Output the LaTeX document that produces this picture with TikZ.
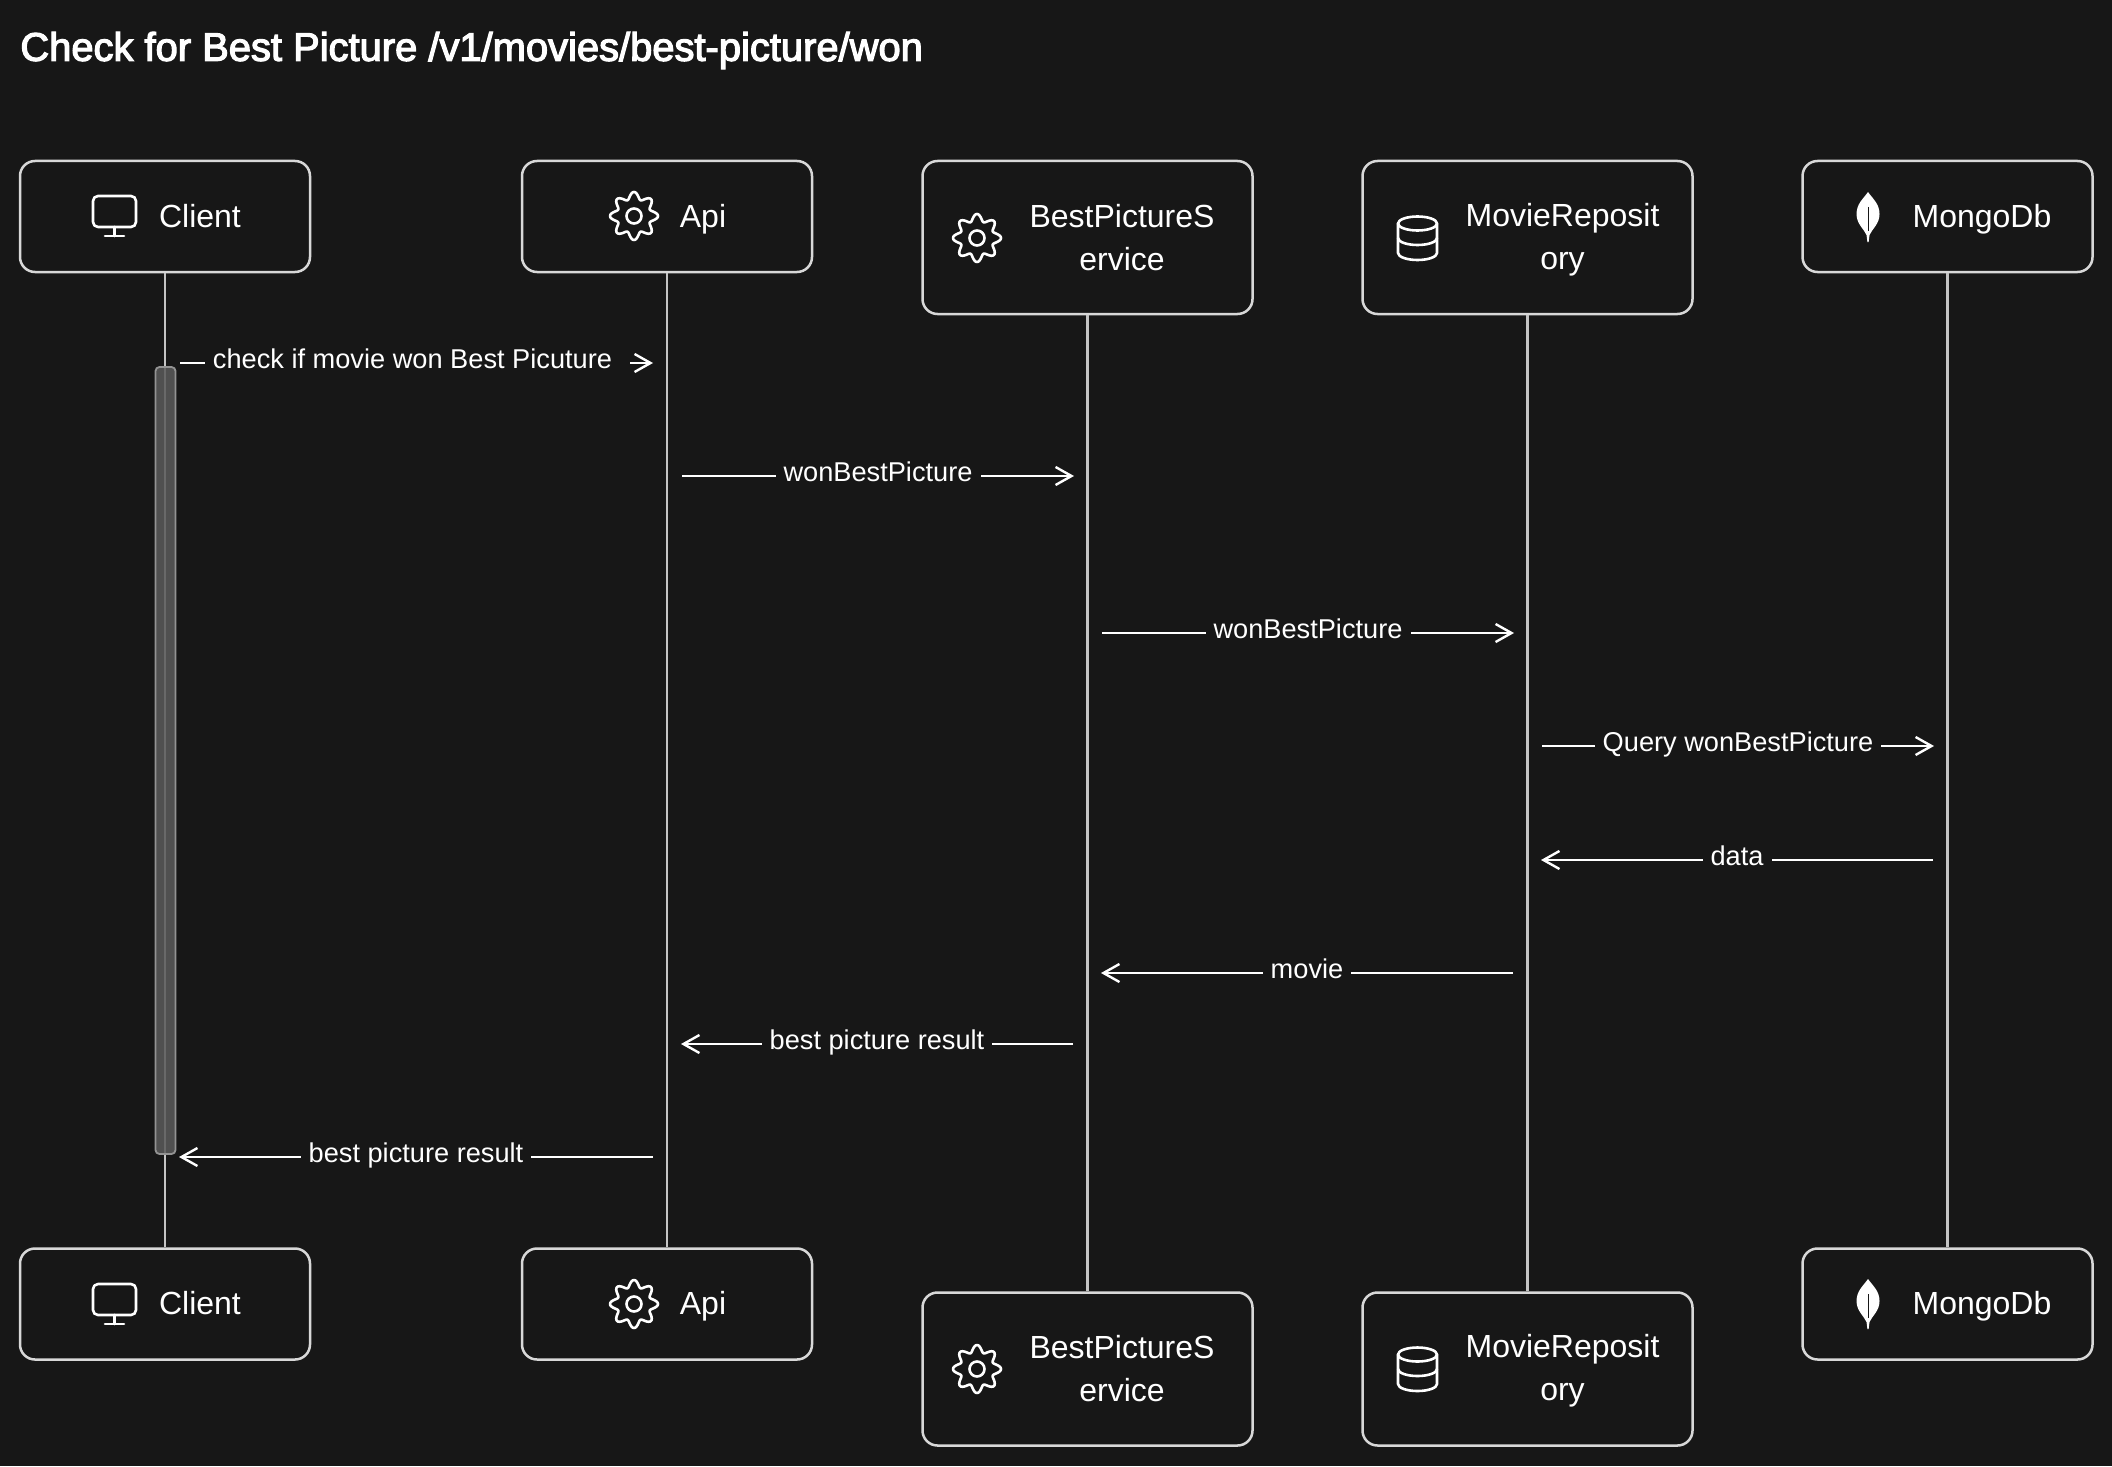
\documentclass[tikz,border=0pt]{standalone}
\usepackage{fontspec}
\setmainfont{Liberation Sans}
\newfontfamily\titlefont[FakeBold=3]{Liberation Sans}
\usetikzlibrary{arrows.meta}
\definecolor{bgc}{HTML}{171717}
\definecolor{edgec}{HTML}{D8D8D8}
\definecolor{lifec}{HTML}{C4C4C4}
\definecolor{actc}{HTML}{5A5A5A}
\tikzset{
  x=0.5pt,y=-0.5pt,
  actorbox/.style={draw=edgec,line width=1.25pt,rounded corners=7.5pt,fill=bgc,inner sep=0pt,minimum width=#1},
  shortbox/.style={actorbox=#1,minimum height=55.5pt},
  tallbox/.style={actorbox=#1,minimum height=76.5pt},
  actorlabel/.style={text=white,align=center,inner sep=0pt,font=\fontsize{16}{21.5}\selectfont},
  singlelabel/.style={actorlabel,text height=11.5pt,text depth=3.4pt},
  lifeline/.style={draw=lifec,line width=1.1pt},
  msg/.style={draw=white,line width=1.2pt,-{Straight Barb[length=8pt,width=9pt,line width=1.2pt]}},
  msgtext/.style={midway,fill=bgc,text=white,yshift=1pt,inner xsep=4pt,inner ysep=1pt,text height=10pt,text depth=3pt,font=\fontsize{13.6}{16}\selectfont},
  iconline/.style={draw=white,line width=1.3pt,line join=round,line cap=round},
  monitor/.pic={
    \draw[iconline,rounded corners=2.5pt] (-21.5,-20) rectangle (21.5,11);
    \draw[iconline] (0,11) -- (0,20) (-9.5,20) -- (9.5,20);
  },
  gear/.pic={
    \draw[iconline] plot[domain=0:360,samples=121,smooth] ({(20.5+3.5*cos(8*\x))*sin(\x)},{(20.5+3.5*cos(8*\x))*cos(\x)});
    \draw[iconline] (0,0) circle[radius=7.5];
  },
  cylinder/.pic={
    \draw[iconline] (-19.5,-14.5) arc[start angle=180,end angle=-180,x radius=19.5,y radius=-7];
    \draw[iconline] (-19.5,-14.5) -- (-19.5,15) arc[start angle=180,end angle=360,x radius=19.5,y radius=-7] -- (19.5,-14.5);
    \draw[iconline] (-19.5,0) arc[start angle=180,end angle=360,x radius=19.5,y radius=-7];
  },
  leaf/.pic={
    \fill[white] (0,-25) .. controls (5,-18) and (11.5,-13) .. (11.5,-3) .. controls (11.5,7) and (4,12) .. (1.5,18) -- (0.6,25) -- (-0.6,25) -- (-1.5,18) .. controls (-4,12) and (-11.5,7) .. (-11.5,-3) .. controls (-11.5,-13) and (-5,-18) .. (0,-25) -- cycle;
    \draw[bgc,line width=0.35pt] (0,-10) -- (0,14);
  },
}
\begin{document}
\begin{tikzpicture}
\useasboundingbox (0,0) rectangle (2112,1466);
\fill[bgc] (0,0) rectangle (2112,1466);

\node[anchor=west,text=white,inner sep=0pt,font=\fontsize{19.95}{23}\titlefont] (title) at (20,50.5) {Check for Best Picture /v1/movies/best-picture/won};

\node[shortbox=145pt] (clientT) at (165,216.5) {};
\node[shortbox=145pt] (apiT) at (667,216.5) {};
\node[tallbox=165pt] (bpsT) at (1087.5,237.5) {};
\node[tallbox=165pt] (repoT) at (1527.5,237.5) {};
\node[shortbox=145pt] (mongoT) at (1947.5,216.5) {};
\node[shortbox=145pt] (clientB) at (165,1304) {};
\node[shortbox=145pt] (apiB) at (667,1304) {};
\node[tallbox=165pt] (bpsB) at (1087.5,1369) {};
\node[tallbox=165pt] (repoB) at (1527.5,1369) {};
\node[shortbox=145pt] (mongoB) at (1947.5,1304) {};

\draw[lifeline] (clientT.south) -- (clientB.north);
\draw[lifeline] (apiT.south) -- (apiB.north);
\draw[lifeline] (bpsT.south) -- (bpsB.north);
\draw[lifeline] (repoT.south) -- (repoB.north);
\draw[lifeline] (mongoT.south) -- (mongoB.north);

\node[draw=lifec!75!black,line width=0.9pt,fill=actc,fill opacity=0.85,rounded corners=2pt,minimum width=10pt,minimum height=393.5pt,inner sep=0pt] (act) at (165.5,760.5) {};

\node[singlelabel] (clientTl) at (200,219) {Client};
\node[singlelabel] (apiTl) at (703,219) {Api};
\node[actorlabel] (bpsTl) at (1122,238) {BestPictureS\\ervice};
\node[actorlabel] (repoTl) at (1562.5,240) {MovieReposit\\ory};
\node[singlelabel] (mongoTl) at (1982,219) {MongoDb};
\pic at (114.5,216) {monitor};
\pic at (634,216) {gear};
\pic at (977,238) {gear};
\pic at (1417.5,238) {cylinder};
\pic at (1868,217) {leaf};

\node[singlelabel] (clientBl) at (200,1306) {Client};
\node[singlelabel] (apiBl) at (703,1306) {Api};
\node[actorlabel] (bpsBl) at (1122,1369) {BestPictureS\\ervice};
\node[actorlabel] (repoBl) at (1562.5,1371) {MovieReposit\\ory};
\node[singlelabel] (mongoBl) at (1982,1306) {MongoDb};
\pic at (114.5,1304) {monitor};
\pic at (634,1304) {gear};
\pic at (977,1369) {gear};
\pic at (1417.5,1369) {cylinder};
\pic at (1868,1304) {leaf};

\coordinate (m1a) at (180,363);   \coordinate (m1b) at (653,363);
\coordinate (m2a) at (682,476);   \coordinate (m2b) at (1074,476);
\coordinate (m3a) at (1102,633);  \coordinate (m3b) at (1514,633);
\coordinate (m4a) at (1542,746);  \coordinate (m4b) at (1934,746);
\coordinate (m5a) at (1933,860);  \coordinate (m5b) at (1541,860);
\coordinate (m6a) at (1513,973);  \coordinate (m6b) at (1101,973);
\coordinate (m7a) at (1073,1044); \coordinate (m7b) at (681,1044);
\coordinate (m8a) at (653,1157);  \coordinate (m8b) at (179,1157);

\draw[msg] (m1a) -- node[msgtext,xshift=0.5pt] (t1) {check if movie won Best Picuture\hspace*{5pt}} (m1b);
\draw[msg] (m2a) -- node[msgtext] (t2) {wonBestPicture} (m2b);
\draw[msg] (m3a) -- node[msgtext] (t3) {wonBestPicture} (m3b);
\draw[msg] (m4a) -- node[msgtext] (t4) {Query wonBestPicture} (m4b);
\draw[msg] (m5a) -- node[msgtext] (t5) {data} (m5b);
\draw[msg] (m6a) -- node[msgtext] (t6) {movie} (m6b);
\draw[msg] (m7a) -- node[msgtext] (t7) {best picture result} (m7b);
\draw[msg] (m8a) -- node[msgtext] (t8) {best picture result} (m8b);
\end{tikzpicture}
\end{document}
